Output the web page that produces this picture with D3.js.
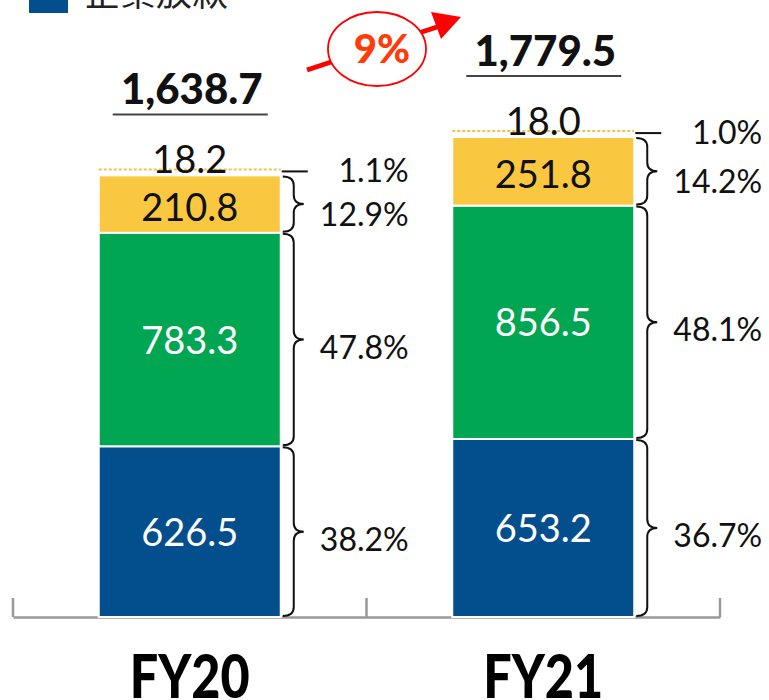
<!DOCTYPE html>
<html>
<head>
<meta charset="utf-8">
<script src="https://cdn.jsdelivr.net/npm/d3@7"></script>
<style>
  html, body { margin: 0; padding: 0; background: #fff; }
  svg { display: block; font-family: Lato, "Noto Sans", sans-serif; }
</style>
</head>
<body>
<svg id="chart" width="769" height="700"></svg>
<script>
const years = ["FY20", "FY21"];
const segments = ["corp", "green", "yellow", "other"];
const values = {
  FY20: [626.5, 783.3, 210.8, 18.2],
  FY21: [653.2, 856.5, 251.8, 18.0]
};
const shares = {
  FY20: [38.2, 47.8, 12.9, 1.1],
  FY21: [36.7, 48.1, 14.2, 1.0]
};
const totals = { FY20: "1,638.7", FY21: "1,779.5" };
const growth = "9%";
const legendLabel = "企業放款";

const colors = ["#034e8d", "#00a651", "#f9c840", "#ffffff"];
const textColors = ["#fff", "#fff", "#111", "#111"];

const svg = d3.select("#chart");

const x = d3.scaleBand().domain(years).range([13, 720]);
const y = d3.scaleLinear().domain([0, 2000]).range([617, 72]);
const barW = 182;

// legend (cut off at the top)
svg.append("rect").attr("x", 29).attr("y", -20).attr("width", 39).attr("height", 33).attr("fill", colors[0]);
svg.append("text").attr("x", 84).attr("y", 6)
  .attr("font-family", "'Noto Sans CJK TC', sans-serif")
  .attr("font-size", 36).attr("fill", "#222").text(legendLabel);

// axis
const axis = svg.append("g").attr("transform", "translate(0,617)")
  .call(d3.axisBottom(x).tickSizeInner(0).tickSizeOuter(0).tickFormat(""));
axis.select(".domain").attr("stroke", "#999").attr("stroke-width", 2.5);
axis.selectAll(".tick").remove();
[13, x.step() + 13, 720].forEach(t => {
  axis.append("line").attr("x1", t).attr("x2", t).attr("y1", -19).attr("y2", 0)
    .attr("stroke", "#999").attr("stroke-width", 2.5);
});

function brace(x0, yTop, yBot) {
  const x1 = x0 + 11, x2 = x0 + 21, ym = (yTop + yBot) / 2;
  const r = Math.min(9, (yBot - yTop) / 4);
  return `M${x0},${yTop} Q${x1},${yTop} ${x1},${yTop + r} L${x1},${ym - r} Q${x1},${ym} ${x2},${ym}` +
    ` Q${x1},${ym} ${x1},${ym + r} L${x1},${yBot - r} Q${x1},${yBot} ${x0},${yBot}`;
}

years.forEach(yr => {
  const cx = x(yr) + x.bandwidth() / 2;
  const left = cx - barW / 2, right = cx + barW / 2;
  let cum = 0;
  const g = svg.append("g");
  values[yr].forEach((v, i) => {
    const y0 = y(cum), y1 = y(cum + v);
    cum += v;
    if (i < 3) {
      g.append("rect").attr("x", left).attr("y", y1).attr("width", barW).attr("height", y0 - y1)
        .attr("fill", colors[i]).attr("stroke", "#fff").attr("stroke-width", 2);
      g.append("text").attr("x", cx).attr("y", (y0 + y1) / 2 + 14 + (i === 2 ? 3 : 0))
        .attr("text-anchor", "middle").attr("font-size", 38).attr("fill", textColors[i])
        .text(v.toFixed(1));
      g.append("path").attr("d", brace(right + 2, y1 + 1, y0 - 1))
        .attr("fill", "none").attr("stroke", "#111").attr("stroke-width", 2);
      g.append("text").attr("x", right + 128).attr("y", (y0 + y1) / 2 + 19 + (i === 2 ? 3 : 0))
        .attr("text-anchor", "end").attr("font-size", 32).attr("fill", "#111")
        .text(shares[yr][i].toFixed(1) + "%");
    } else {
      // tiny top segment: dotted edge
      g.append("line").attr("x1", left).attr("x2", right).attr("y1", y1 - 1).attr("y2", y1 - 1)
        .attr("stroke", "#f4c14a").attr("stroke-width", 2).attr("stroke-dasharray", "3,2");
      g.append("line").attr("x1", right + 1).attr("x2", right + 27).attr("y1", y1 + 1).attr("y2", y1 + 1)
        .attr("stroke", "#111").attr("stroke-width", 2);
      g.append("text").attr("x", cx).attr("y", y1 + 3)
        .attr("text-anchor", "middle").attr("font-size", 38).attr("fill", "#111")
        .text(v.toFixed(1));
      g.append("text").attr("x", right + 128).attr("y", y1 + 12)
        .attr("text-anchor", "end").attr("font-size", 32).attr("fill", "#111")
        .text(shares[yr][i].toFixed(1) + "%");
      // total
      g.append("text").attr("x", cx + 2).attr("y", y1 - 66)
        .attr("text-anchor", "middle").attr("font-size", 42).attr("font-weight", 900).attr("fill", "#111")
        .text(totals[yr]);
      g.append("line").attr("x1", cx - 77).attr("x2", cx + 78).attr("y1", y1 - 56).attr("y2", y1 - 56)
        .attr("stroke", "#444").attr("stroke-width", 2);
    }
  });
  svg.append("text").attr("x", cx).attr("y", 698)
    .attr("text-anchor", "middle").attr("font-size", 60).attr("font-weight", 900).attr("fill", "#000")
    .attr("textLength", 120).attr("lengthAdjust", "spacingAndGlyphs")
    .text(yr);
});

// growth annotation
const ann = svg.append("g");
ann.append("line").attr("x1", 307).attr("y1", 70).attr("x2", 440).attr("y2", 26)
  .attr("stroke", "#ff0000").attr("stroke-width", 5);
ann.append("path").attr("d", "M431,12 L461,17 L441,39 Z").attr("fill", "#ff0000");
ann.append("ellipse").attr("cx", 377).attr("cy", 49).attr("rx", 49).attr("ry", 37)
  .attr("fill", "#fff").attr("stroke", "#ff0000").attr("stroke-width", 1.8);
ann.append("text").attr("x", 382).attr("y", 63).attr("text-anchor", "middle")
  .attr("font-size", 40).attr("font-weight", 900).attr("fill", "#ff3b0a").text(growth);
</script>
</body>
</html>
